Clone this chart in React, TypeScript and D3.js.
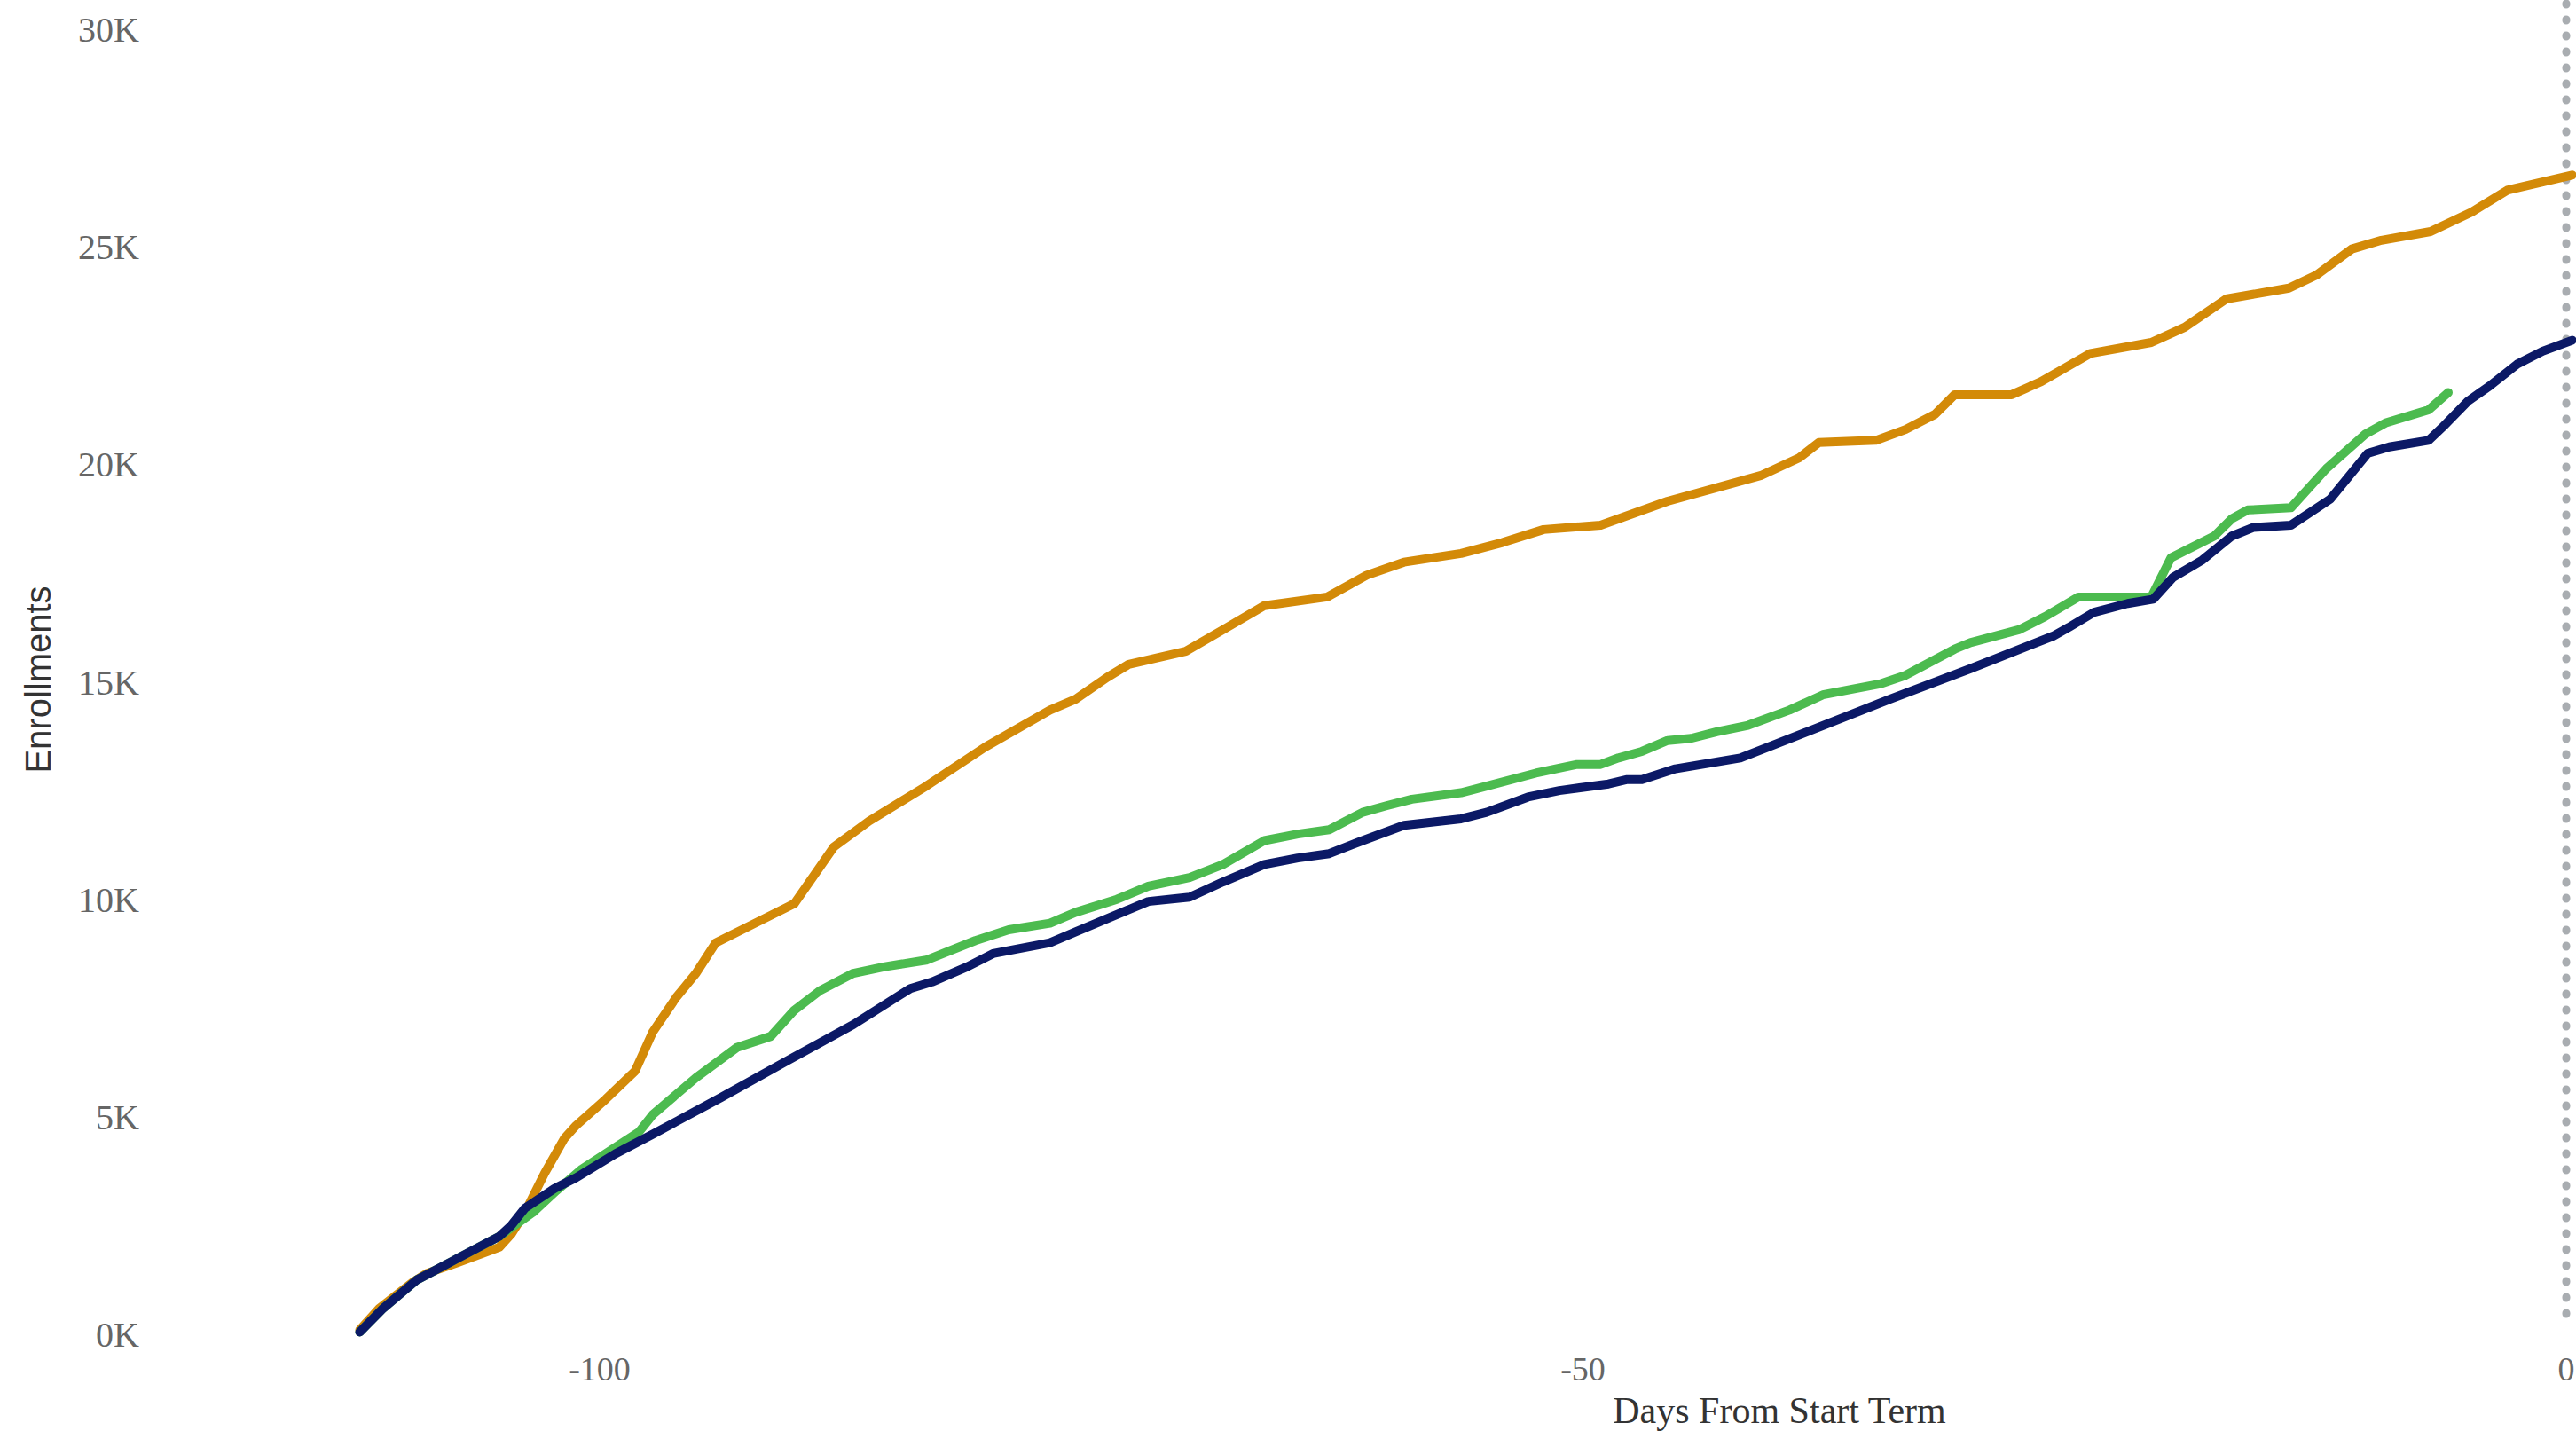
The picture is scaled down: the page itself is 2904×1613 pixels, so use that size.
import { useEffect, useRef } from "react"
import * as d3 from "d3"

// [day, enrollments]
const priorYear: [number, number][] = [
  [-112.2, 100], [-111.2, 600], [-109.5, 1200], [-108.8, 1400], [-107.2, 1650], [-105.1, 2000],
  [-104.5, 2300], [-103.8, 2800], [-102.8, 3700], [-101.8, 4500], [-101.2, 4800], [-99.7, 5400],
  [-98.2, 6050], [-97.3, 6950], [-96.1, 7750], [-95.1, 8300], [-94.1, 9000], [-92.1, 9450],
  [-90.1, 9900], [-88.1, 11200], [-86.3, 11800], [-83.4, 12600], [-80.4, 13500], [-77.1, 14350],
  [-75.8, 14600], [-74.2, 15100], [-73.1, 15400], [-70.2, 15700], [-68.1, 16250], [-66.2, 16750],
  [-63.0, 16950], [-61.0, 17450], [-59.1, 17750], [-56.2, 17950], [-54.1, 18200], [-52.0, 18500],
  [-49.1, 18600], [-45.7, 19150], [-44.1, 19350], [-40.9, 19750], [-39.0, 20150], [-38.0, 20500],
  [-35.1, 20550], [-33.6, 20800], [-32.1, 21150], [-31.1, 21600], [-28.2, 21600], [-26.7, 21900],
  [-24.2, 22550], [-21.1, 22800], [-19.4, 23150], [-17.3, 23800], [-14.1, 24050], [-12.7, 24350],
  [-10.9, 24950], [-9.4, 25150], [-6.9, 25350], [-4.8, 25800], [-3.0, 26300], [0.3, 26650],
]

const currentYear: [number, number][] = [
  [-112.2, 50], [-111.0, 600], [-109.3, 1250], [-107.2, 1750], [-105.1, 2250], [-104.5, 2450],
  [-103.4, 2800], [-102.2, 3300], [-100.9, 3800], [-99.2, 4300], [-98.0, 4650], [-97.3, 5050],
  [-95.1, 5900], [-93.0, 6600], [-91.3, 6850], [-90.1, 7450], [-88.8, 7900], [-87.1, 8300],
  [-85.5, 8450], [-83.4, 8600], [-80.9, 9050], [-79.2, 9300], [-77.1, 9450], [-75.8, 9700],
  [-73.7, 10000], [-72.1, 10300], [-70.0, 10500], [-68.3, 10800], [-66.2, 11350], [-64.5, 11500],
  [-62.9, 11600], [-61.2, 12000], [-60.0, 12150], [-58.7, 12300], [-56.2, 12450], [-54.9, 12600],
  [-52.4, 12900], [-50.3, 13100], [-49.1, 13100], [-48.2, 13250], [-47.0, 13400], [-45.7, 13650],
  [-44.5, 13700], [-43.2, 13850], [-41.6, 14000], [-39.5, 14350], [-37.8, 14700], [-34.9, 14950],
  [-33.6, 15150], [-31.1, 15750], [-30.3, 15900], [-27.8, 16200], [-26.5, 16500], [-24.8, 16950],
  [-21.1, 16950], [-20.1, 17850], [-17.9, 18350], [-17.0, 18750], [-16.2, 18950], [-14.0, 19000],
  [-12.2, 19900], [-10.2, 20700], [-9.2, 20950], [-7.0, 21250], [-6.0, 21650],
]

const twoYearsAgo: [number, number][] = [
  [-112.2, 50], [-111.0, 600], [-109.3, 1250], [-107.2, 1750], [-105.1, 2250], [-104.5, 2500],
  [-103.8, 2900], [-102.3, 3350], [-101.2, 3600], [-99.2, 4150], [-97.3, 4600], [-93.8, 5450],
  [-90.5, 6280], [-87.1, 7120], [-84.2, 7950], [-83.1, 8100], [-81.3, 8450], [-80.0, 8750],
  [-77.1, 9000], [-75.8, 9250], [-73.7, 9650], [-72.1, 9950], [-70.0, 10050], [-68.3, 10400],
  [-66.2, 10800], [-64.5, 10950], [-62.9, 11050], [-61.2, 11350], [-59.1, 11700], [-56.2, 11850],
  [-54.9, 12000], [-52.8, 12350], [-51.2, 12500], [-48.7, 12650], [-47.8, 12750], [-47.0, 12750],
  [-45.3, 13000], [-42.0, 13250], [-38.6, 13850], [-34.4, 14600], [-30.3, 15300], [-26.1, 16050],
  [-25.3, 16250], [-24.0, 16600], [-22.3, 16800], [-21.0, 16900], [-20.0, 17400], [-18.5, 17800],
  [-17.0, 18350], [-15.9, 18550], [-14.0, 18600], [-12.0, 19200], [-10.1, 20250], [-9.0, 20400],
  [-7.0, 20550], [-6.3, 20850], [-5.0, 21450], [-3.9, 21800], [-2.5, 22300], [-1.2, 22600],
  [0.3, 22850],
]

const yTicks = [0, 5000, 10000, 15000, 20000, 25000, 30000]
const xTicks = [-100, -50, 0]

const series = [
  { name: "prior", values: priorYear, color: "#D38A08" },
  { name: "current", values: currentYear, color: "#4CBB4F" },
  { name: "twoAgo", values: twoYearsAgo, color: "#0B1966" },
]

const W = 2904
const H = 1613
const serif = "'Liberation Serif', 'Times New Roman', serif"

export default function App() {
  const svgRef = useRef<SVGSVGElement>(null)

  useEffect(() => {
    if (!svgRef.current) return
    const svg = d3.select(svgRef.current)
    svg.selectAll("*").remove()

    const x = d3.scaleLinear().domain([-100, 0]).range([676, 2893])
    const y = d3.scaleLinear().domain([0, 30000]).range([1504, 33])

    // y tick labels
    svg
      .append("g")
      .selectAll("text")
      .data(yTicks)
      .enter()
      .append("text")
      .attr("x", 157)
      .attr("y", (d) => y(d))
      .attr("dy", "0.35em")
      .attr("text-anchor", "end")
      .attr("font-family", serif)
      .attr("font-size", 40)
      .attr("fill", "#666")
      .text((d) => `${d / 1000}K`)

    // x tick labels
    svg
      .append("g")
      .selectAll("text")
      .data(xTicks)
      .enter()
      .append("text")
      .attr("x", (d) => x(d))
      .attr("y", 1543)
      .attr("dy", "0.35em")
      .attr("text-anchor", "middle")
      .attr("font-family", serif)
      .attr("font-size", 38)
      .attr("fill", "#666")
      .text((d) => `${d}`)

    // reference line at start of term
    svg
      .append("line")
      .attr("x1", x(0))
      .attr("x2", x(0))
      .attr("y1", 4)
      .attr("y2", 1490)
      .attr("stroke", "#a9adb1")
      .attr("stroke-width", 9)
      .attr("stroke-linecap", "round")
      .attr("stroke-dasharray", "1 17")

    const line = d3
      .line<[number, number]>()
      .x((d) => x(d[0]))
      .y((d) => y(d[1]))

    svg
      .append("g")
      .selectAll("path")
      .data(series)
      .enter()
      .append("path")
      .attr("d", (d) => line(d.values))
      .attr("fill", "none")
      .attr("stroke", (d) => d.color)
      .attr("stroke-width", 10)
      .attr("stroke-linejoin", "round")
      .attr("stroke-linecap", "round")

    // axis titles
    svg
      .append("text")
      .attr("x", 2006)
      .attr("y", 1589)
      .attr("dy", "0.35em")
      .attr("text-anchor", "middle")
      .attr("font-family", serif)
      .attr("font-size", 42)
      .attr("fill", "#333")
      .text("Days From Start Term")

    svg
      .append("text")
      .attr("transform", "translate(43, 766) rotate(-90)")
      .attr("dy", "0.35em")
      .attr("text-anchor", "middle")
      .attr("font-family", "'Liberation Sans', Arial, sans-serif")
      .attr("font-size", 40)
      .attr("fill", "#333")
      .text("Enrollments")
  }, [])

  return (
    <svg
      ref={svgRef}
      width={W}
      height={H}
      style={{ position: "absolute", left: 0, top: 0, background: "#fff" }}
    />
  )
}
